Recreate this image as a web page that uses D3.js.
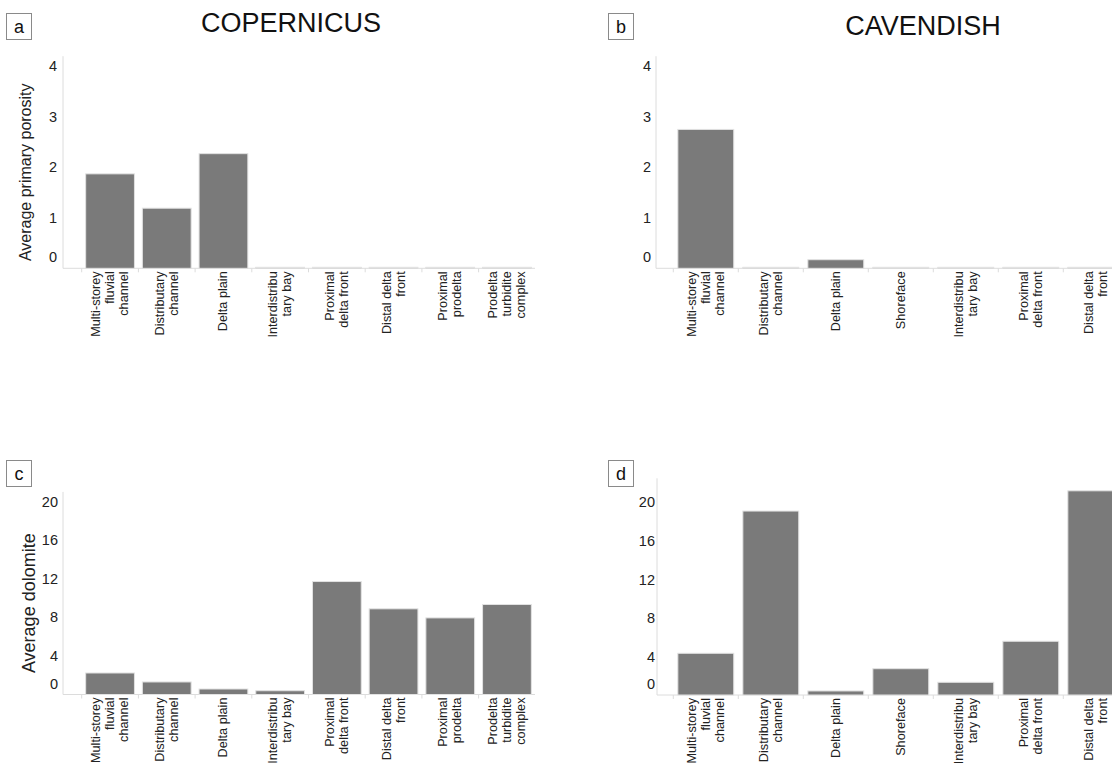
<!DOCTYPE html>
<html>
<head>
<meta charset="utf-8">
<script src="https://cdn.jsdelivr.net/npm/d3@7"></script>
<style>
  html, body { margin: 0; padding: 0; background: #fff; }
  svg { display: block; font-family: "Liberation Sans", Arial, sans-serif; }
</style>
</head>
<body>
<svg id="chart" width="1112" height="766"></svg>
<script>
// ---------------- DATA ----------------
const copernicusCategories = [
  "Multi-storey\nfluvial\nchannel",
  "Distributary\nchannel",
  "Delta plain",
  "Interdistribu\ntary bay",
  "Proximal\ndelta front",
  "Distal delta\nfront",
  "Proximal\nprodelta",
  "Prodelta\nturbidite\ncomplex"
];
const cavendishCategories = [
  "Multi-storey\nfluvial\nchannel",
  "Distributary\nchannel",
  "Delta plain",
  "Shoreface",
  "Interdistribu\ntary bay",
  "Proximal\ndelta front",
  "Distal delta\nfront"
];
const porosityCopernicus = [1.87, 1.19, 2.27, 0, 0, 0, 0, 0];
const porosityCavendish  = [2.75, 0, 0.17, 0, 0, 0, 0];
const dolomiteCopernicus = [2.23, 1.30, 0.57, 0.39, 11.71, 8.88, 7.94, 9.33];
const dolomiteCavendish  = [4.33, 19.1, 0.42, 2.73, 1.32, 5.58, 21.2];
const porosityTicks = [0, 1, 2, 3, 4];
const dolomiteTicks = [0, 4, 8, 12, 16, 20];
const panelLetters = ["a", "b", "c", "d"];
const titles = ["COPERNICUS", "CAVENDISH"];
const yTitles = ["Average primary porosity", "Average dolomite"];

// ---------------- LAYOUT ----------------
const svg = d3.select("#chart");
const FONT = "'Liberation Sans', Arial, sans-serif";

const panels = [
  { letter: panelLetters[0], cats: copernicusCategories, vals: porosityCopernicus, ticks: porosityTicks,
    domainMax: 4.2, axisX: 63, bandStart: 81.7, step: 56.7, base: 268.3, top: 56.2, xEnd: 535,
    tickLabelX: 57, yTitle: yTitles[0], yTitleX: 25, yTitleSize: 16, box: [6, 13] },
  { letter: panelLetters[1], cats: cavendishCategories, vals: porosityCavendish, ticks: porosityTicks,
    domainMax: 4.2, axisX: 656, bandStart: 673.3, step: 65, base: 268.3, top: 56.2, xEnd: 1112,
    tickLabelX: 651, yTitle: null, box: [608, 13] },
  { letter: panelLetters[2], cats: copernicusCategories, vals: dolomiteCopernicus, ticks: dolomiteTicks,
    domainMax: 21, axisX: 63, bandStart: 81.7, step: 56.7, base: 694.5, top: 491.9, xEnd: 535,
    tickLabelX: 58, yTitle: yTitles[1], yTitleX: 29, yTitleSize: 18, box: [6, 460] },
  { letter: panelLetters[3], cats: cavendishCategories, vals: dolomiteCavendish, ticks: dolomiteTicks,
    domainMax: 22.5, axisX: 657, bandStart: 673.3, step: 65, base: 695, top: 478.3, xEnd: 1112,
    tickLabelX: 655, yTitle: null, box: [608, 460] }
];

const axisColor = "#dcdcdc";
const barFill = "#7a7a7a";
const barStroke = "#e2e2e2";

panels.forEach(p => {
  const g = svg.append("g");
  const n = p.cats.length;
  const x = d3.scaleBand()
    .domain(p.cats)
    .range([p.bandStart, p.bandStart + n * p.step])
    .paddingInner(0.14)
    .paddingOuter(0.07);
  const y = d3.scaleLinear().domain([0, p.domainMax]).range([p.base, p.top]);

  // y axis line
  g.append("line")
    .attr("x1", p.axisX).attr("x2", p.axisX)
    .attr("y1", y(p.domainMax)).attr("y2", y(0))
    .attr("stroke", axisColor).attr("stroke-width", 1);
  // x axis line
  g.append("line")
    .attr("x1", p.axisX).attr("x2", p.xEnd)
    .attr("y1", y(0)).attr("y2", y(0))
    .attr("stroke", axisColor).attr("stroke-width", 1);
  // x tick marks at band starts
  g.selectAll(".xt").data(p.cats).enter().append("line")
    .attr("x1", d => x(d) - x.step() * x.paddingOuter())
    .attr("x2", d => x(d) - x.step() * x.paddingOuter())
    .attr("y1", y(0)).attr("y2", y(0) + 4)
    .attr("stroke", axisColor).attr("stroke-width", 1);

  // y tick labels
  g.selectAll(".yl").data(p.ticks).enter().append("text")
    .attr("x", p.tickLabelX)
    .attr("y", d => y(d) - (d === 0 ? 11 : 0))
    .attr("dy", "0.35em")
    .attr("text-anchor", "end")
    .attr("font-family", FONT)
    .attr("font-size", 14.5)
    .attr("fill", "#222")
    .text(d => d);

  // bars
  g.selectAll(".bar").data(p.vals.map((v, i) => ({ c: p.cats[i], v }))).enter().append("rect")
    .attr("x", d => x(d.c))
    .attr("width", x.bandwidth())
    .attr("y", d => Math.min(y(d.v), y(0) - 1))
    .attr("height", d => Math.max(1, y(0) - y(d.v)))
    .attr("fill", barFill)
    .attr("stroke", barStroke)
    .attr("stroke-width", 1);

  // category labels (rotated, multi-line)
  p.cats.forEach(c => {
    const lines = c.split("\n");
    const cx = x(c) + x.bandwidth() / 2;
    const lg = g.append("g").attr("transform", `translate(${cx},${y(0) + 3}) rotate(-90)`);
    lines.forEach((ln, i) => {
      lg.append("text")
        .attr("x", 0)
        .attr("y", (i - (lines.length - 1) / 2) * 14)
        .attr("dominant-baseline", "central")
        .attr("text-anchor", "end")
        .attr("font-family", FONT)
        .attr("font-size", 12.7)
        .attr("fill", "#222")
        .text(ln);
    });
  });

  // y title
  if (p.yTitle) {
    const cy = (y(0) + y(p.domainMax)) / 2 + 10;
    svg.append("text")
      .attr("transform", `translate(${p.yTitleX},${cy}) rotate(-90)`)
      .attr("text-anchor", "middle")
      .attr("dominant-baseline", "central")
      .attr("font-family", FONT)
      .attr("font-size", p.yTitleSize)
      .attr("fill", "#222")
      .text(p.yTitle);
  }

  // panel letter box
  svg.append("rect")
    .attr("x", p.box[0] + 0.5).attr("y", p.box[1] + 0.5)
    .attr("width", 25).attr("height", 26)
    .attr("fill", "#fff").attr("stroke", "#8a8a8a").attr("stroke-width", 1);
  svg.append("text")
    .attr("x", p.box[0] + 13).attr("y", p.box[1] + 14)
    .attr("text-anchor", "middle")
    .attr("dominant-baseline", "central")
    .attr("font-family", FONT)
    .attr("font-size", 18)
    .attr("fill", "#111")
    .text(p.letter);
});

// titles
svg.append("text").attr("x", 291).attr("y", 32)
  .attr("text-anchor", "middle").attr("font-family", FONT).attr("font-size", 27).attr("fill", "#111")
  .text(titles[0]);
svg.append("text").attr("x", 923).attr("y", 35)
  .attr("text-anchor", "middle").attr("font-family", FONT).attr("font-size", 27).attr("fill", "#111")
  .text(titles[1]);
</script>
</body>
</html>
